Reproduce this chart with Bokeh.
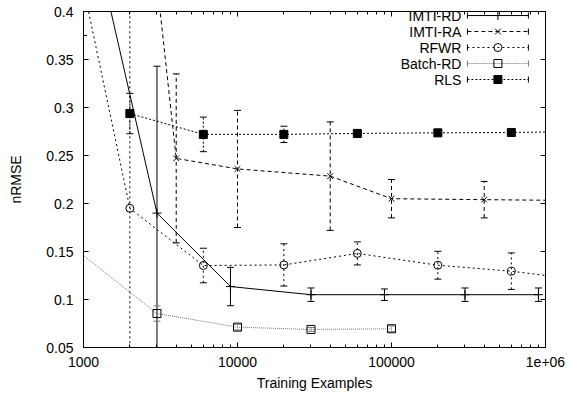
import math
from bokeh.plotting import figure
from bokeh.models import FixedTicker, LinearAxis, LogAxis, Range1d
from bokeh.core.properties import value
from bokeh.embed import file_html
from bokeh.resources import INLINE

# ---------------- data ----------------
x_ticks = [1000, 10000, 100000, 1000000]
x_tick_labels = ["1000", "10000", "100000", "1e+06"]
y_ticks = [0.05, 0.1, 0.15, 0.2, 0.25, 0.3, 0.35, 0.4]
y_tick_labels = ["0.05", "0.1", "0.15", "0.2", "0.25", "0.3", "0.35", "0.4"]

imti_rd_x = [1000, 3000, 9000, 30000, 90000, 300000, 900000]
imti_rd_y = [0.525, 0.19, 0.1135, 0.105, 0.105, 0.105, 0.105]
imti_rd_err = [0.05, 0.153, 0.02, 0.007, 0.006, 0.007, 0.007]

imti_ra_x = [1000, 4000, 10000, 40000, 100000, 400000, 4000000]
imti_ra_y = [1.13, 0.247, 0.236, 0.2285, 0.205, 0.204, 0.2025]
imti_ra_err = [0.05, 0.088, 0.061, 0.0565, 0.02, 0.019, 0.02]

rfwr_x = [1000, 2000, 6000, 20000, 60000, 200000, 600000, 2000000]
rfwr_y = [0.425, 0.195, 0.1354, 0.136, 0.148, 0.1357, 0.1295, 0.119]
rfwr_err = [0.05, 0.25, 0.018, 0.022, 0.012, 0.0145, 0.019, 0.015]

batch_x = [500, 3000, 10000, 30000, 100000]
batch_y = [0.184, 0.0854, 0.0712, 0.0688, 0.0695]
batch_err = [0.005, 0.008, 0.003, 0.002, 0.003]

rls_x = [2000, 6000, 20000, 60000, 200000, 600000, 2000000]
rls_y = [0.2937, 0.272, 0.272, 0.273, 0.2736, 0.274, 0.275]
rls_err = [0.021, 0.018, 0.0085, 0.004, 0.003, 0.003, 0.003]

series_names = ["IMTI-RD", "IMTI-RA", "RFWR", "Batch-RD", "RLS"]

# ---------------- styles ----------------
FONT = "Liberation Sans"
styles = [
    dict(color="black", dash="solid", marker="cross", size=9, fill=None),
    dict(color="black", dash="4 3", marker="x", size=8, fill=None),
    dict(color="black", dash="2 3", marker="circle", size=8, fill=None),
    dict(color="#777777", dash="1 1", marker="square", size=8, fill=None),
    dict(color="black", dash="2 2", marker="square", size=8, fill="black"),
]
series = [
    (imti_rd_x, imti_rd_y, imti_rd_err),
    (imti_ra_x, imti_ra_y, imti_ra_err),
    (rfwr_x, rfwr_y, rfwr_err),
    (batch_x, batch_y, batch_err),
    (rls_x, rls_y, rls_err),
]

X0, X1 = 1000, 1e6
Y0, Y1 = 0.05, 0.4

p = figure(width=567, height=394, x_axis_type="log",
           x_range=Range1d(X0, X1), y_range=Range1d(Y0, Y1),
           output_backend="svg", toolbar_location=None,
           min_border_left=83, min_border_right=22,
           min_border_top=11, min_border_bottom=47)
p.background_fill_color = "white"
p.border_fill_color = "white"
p.outline_line_color = "black"
p.outline_line_width = 1
p.grid.visible = False

bottom_axis = p.below[0]
left_axis = p.left[0]

x_minor = [m * 10 ** e for e in range(3, 6) for m in range(2, 10)]
xt = FixedTicker(ticks=x_ticks, minor_ticks=x_minor)
yt = FixedTicker(ticks=y_ticks, minor_ticks=[])

top_axis = LogAxis()
right_axis = LinearAxis()
p.add_layout(top_axis, "above")
p.add_layout(right_axis, "right")

for ax in [bottom_axis, top_axis]:
    ax.ticker = xt
for ax in [left_axis, right_axis]:
    ax.ticker = yt

for ax in [bottom_axis, top_axis, left_axis, right_axis]:
    ax.axis_line_color = "black"
    ax.major_tick_in = 5
    ax.major_tick_out = 0
    ax.minor_tick_in = 3
    ax.minor_tick_out = 0
    ax.major_tick_line_color = "black"
    ax.minor_tick_line_color = "black"
    ax.major_label_text_font = FONT
    ax.major_label_text_font_size = "14px"
    ax.major_label_text_color = "black"
    ax.axis_label_text_font = FONT
    ax.axis_label_text_font_size = "14px"
    ax.axis_label_text_font_style = "normal"
    ax.axis_label_text_color = "black"

bottom_axis.major_label_overrides = {t: l for t, l in zip(x_ticks, x_tick_labels)}
left_axis.major_label_overrides = {t: l for t, l in zip(y_ticks, y_tick_labels)}
bottom_axis.axis_label = "Training Examples"
left_axis.axis_label = "nRMSE"
bottom_axis.major_label_standoff = 9
bottom_axis.axis_label_standoff = 5
left_axis.major_label_standoff = 10
left_axis.axis_label_standoff = 19
top_axis.major_label_overrides = {t: "" for t in x_ticks}
right_axis.major_label_overrides = {t: "" for t in y_ticks}
for ax in [top_axis, right_axis]:
    ax.major_label_standoff = 0
    ax.axis_label_standoff = 0

# ---------------- series ----------------
for (xs, ys, es), st in zip(series, styles):
    lo = [y - e for y, e in zip(ys, es)]
    hi = [y + e for y, e in zip(ys, es)]
    p.line(xs, ys, line_color=st["color"], line_dash=st["dash"], line_width=1)
    p.segment(x0=xs, y0=lo, x1=xs, y1=hi, line_color=st["color"],
              line_dash=st["dash"], line_width=1)
    p.scatter(xs + xs, lo + hi, marker="dash", size=7, line_color=st["color"], line_width=1)
    p.scatter(xs, ys, marker=st["marker"], size=st["size"], line_color="black",
              fill_color=st["fill"], line_width=1)

# ---------------- legend (positioned as fractions of the frame) ----------------
def fx(frac):
    return 10 ** (math.log10(X0) + frac * (math.log10(X1) - math.log10(X0)))

def fy(frac_from_top):
    return Y1 - frac_from_top * (Y1 - Y0)

row0 = 0.012
row_step = 0.0476
text_right = 0.818
s_left, s_right, s_mid = 0.831, 0.963, 0.897
cap_half = 0.009

for i, (name, st) in enumerate(zip(series_names, styles)):
    yy = fy(row0 + i * row_step)
    p.text(x=[fx(text_right)], y=[yy], text=[name], text_align="right",
           text_baseline="middle", text_font=value(FONT), text_font_size="14px",
           text_color="black")
    p.line([fx(s_left), fx(s_right)], [yy, yy], line_color=st["color"],
           line_dash=st["dash"], line_width=1)
    ya, yb = fy(row0 + i * row_step - cap_half), fy(row0 + i * row_step + cap_half)
    p.segment(x0=[fx(s_left), fx(s_right)], y0=[ya, ya], x1=[fx(s_left), fx(s_right)],
              y1=[yb, yb], line_color=st["color"], line_width=1)
    p.scatter([fx(s_mid)], [yy], marker=st["marker"], size=st["size"], line_color="black",
              fill_color=st["fill"], line_width=1)

open("out.html", "w").write(file_html(p, INLINE))
